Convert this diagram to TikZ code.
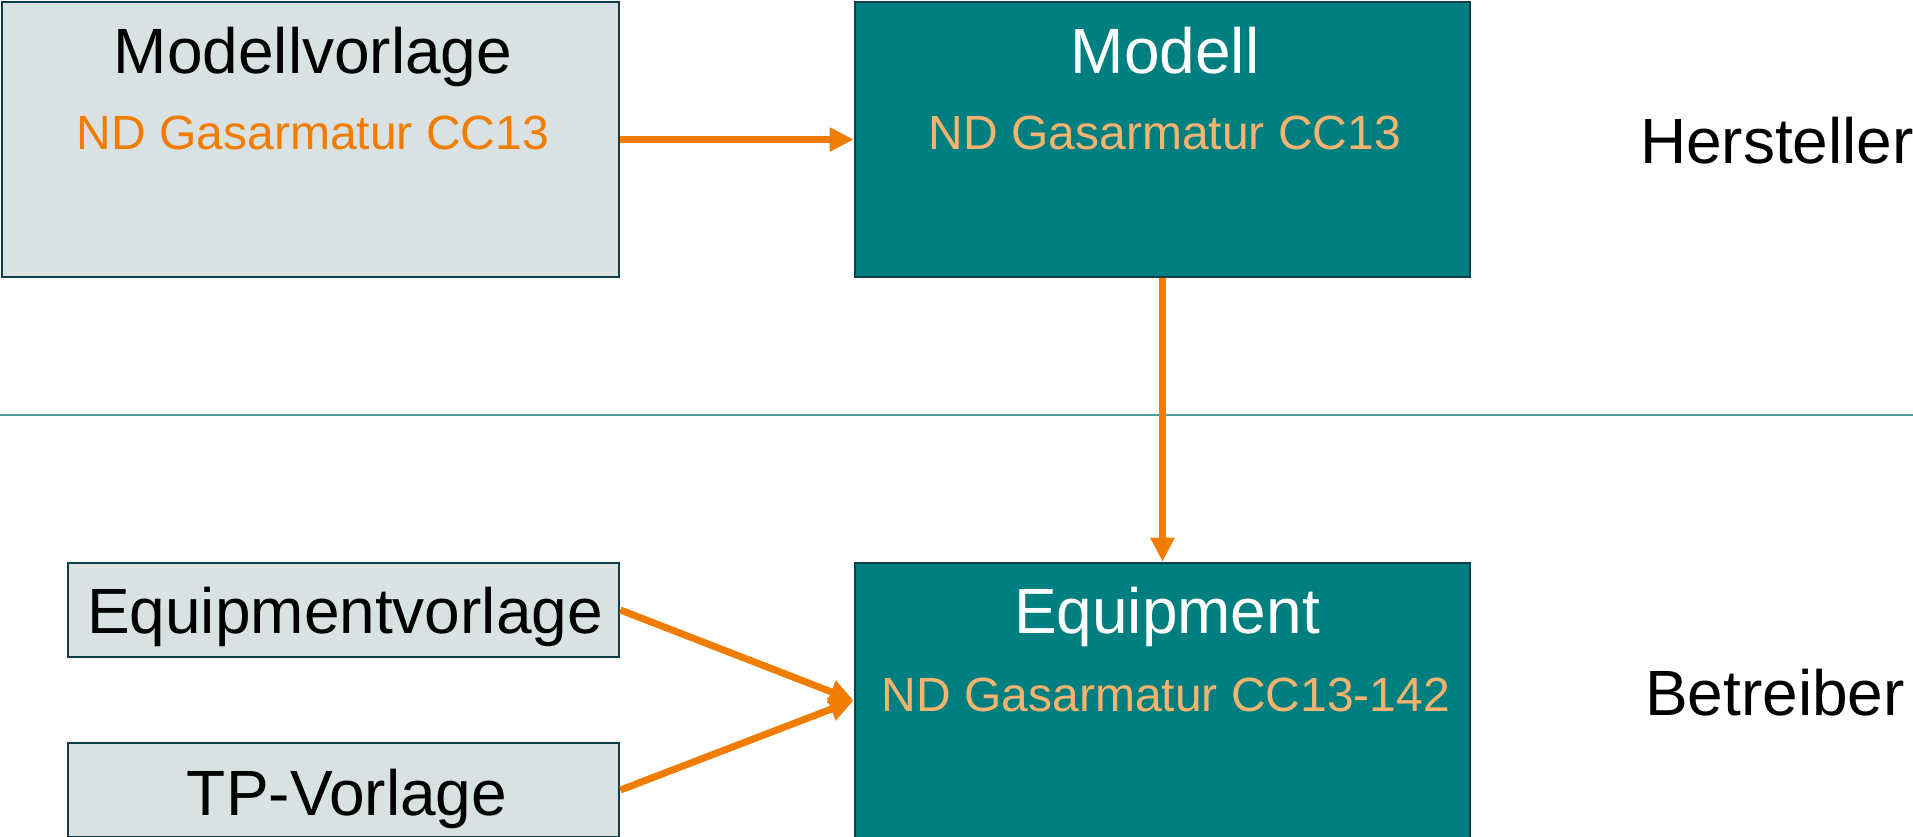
\documentclass[tikz,border=0pt]{standalone}
\usepackage{fontspec}
\setmainfont{Liberation Sans}
\usepackage{tikz}
\usetikzlibrary{arrows.meta}
\definecolor{tealbox}{HTML}{007F80}
\definecolor{grauhell}{HTML}{D9E1E2}
\definecolor{rand}{HTML}{0C3F4C}
\definecolor{pfeilorange}{HTML}{F07D00}
\definecolor{pfirsich}{HTML}{F4B36E}
\definecolor{linie}{HTML}{4A9E9E}
\tikzstyle{vorlage} = [rectangle, draw=rand, line width=1.4pt, fill=grauhell, inner sep=0pt]
\tikzstyle{objekt} = [rectangle, draw=rand, line width=1.4pt, fill=tealbox, inner sep=0pt]
\tikzstyle{gross} = [anchor=base, inner sep=0pt, font=\fontsize{32}{36}\selectfont]
\tikzstyle{klein} = [anchor=base, inner sep=0pt, font=\fontsize{24}{28}\selectfont]
\tikzstyle{arrow} = [line width=3.5pt, draw=pfeilorange, -{Triangle[length=12pt,width=11.5pt]}]

\begin{document}
\begin{tikzpicture}[x=0.5pt,y=-0.5pt]
\useasboundingbox (0,0) rectangle (1913,836);
\clip (0,0) rectangle (1913,836);
% Hersteller
\node (mv) [vorlage, minimum width=308.5pt, minimum height=137.5pt] at (310.5,139.5) {};
\node (m) [objekt, minimum width=307.5pt, minimum height=137.5pt] at (1162.5,139.5) {};
\node (mv_t) [gross] at (313,73) {Modellvorlage};
\node (mv_s) [klein, text=pfeilorange] at (313,149) {ND Gasarmatur CC13};
\node (m_t) [gross, text=white] at (1165,73) {Modell};
\node (m_s) [klein, text=pfirsich] at (1165,149) {ND Gasarmatur CC13};
\node (hst) [gross] at (1777,163) {Hersteller};
\draw[linie, line width=1pt] (0,415)--(1913,415);
% Betreiber
\node (ev) [vorlage, minimum width=275.5pt, minimum height=47pt] at (343.5,610) {};
\node (tp) [vorlage, minimum width=275.5pt, minimum height=47pt] at (343.5,790) {};
\node (e) [objekt, minimum width=307.5pt, minimum height=137.5pt] at (1162.5,700.5) {};
\node (ev_t) [gross] at (345,633) {Equipmentvorlage};
\node (tp_t) [gross] at (347,815) {TP-Vorlage};
\node (e_t) [gross, text=white] at (1167,633) {Equipment};
\node (e_s) [klein, text=pfirsich] at (1166,711) {ND Gasarmatur CC13-142};
\node (btr) [gross] at (1775,715) {Betreiber};
\draw[arrow] (mv.east)--(m.west);
\draw[arrow] (m.south)--(e.north);
\draw[arrow] (ev.east)--(e.west);
\draw[arrow] (tp.east)--(e.west);
\end{tikzpicture}
\end{document}
